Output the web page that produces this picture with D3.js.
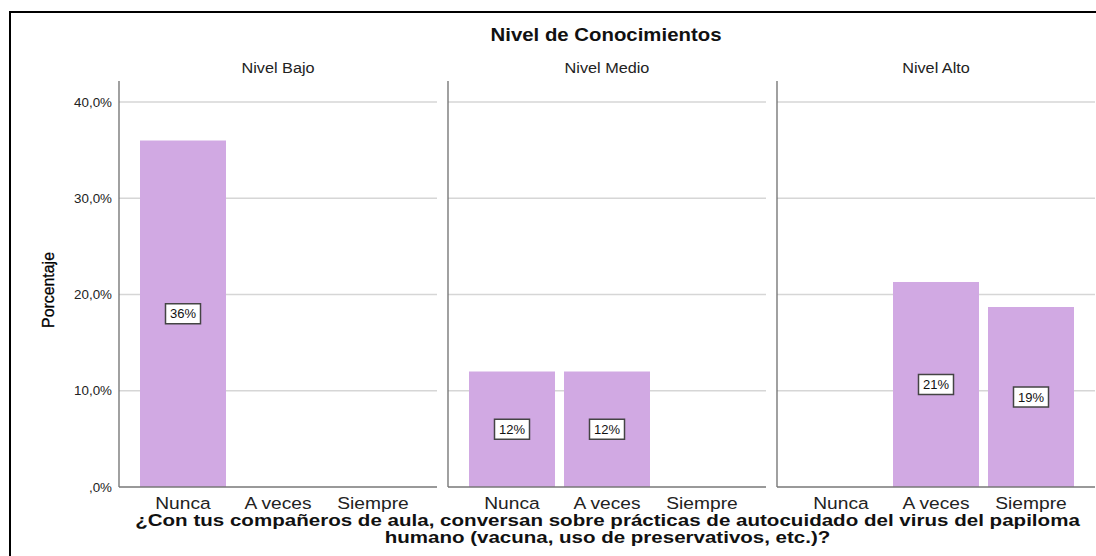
<!DOCTYPE html>
<html><head><meta charset="utf-8">
<script src="https://cdn.jsdelivr.net/npm/d3@7"></script>
<style>body{margin:0;background:#fff}svg{display:block}text{font-family:"Liberation Sans",Arial,sans-serif}</style>
</head><body><svg id="c" width="1096" height="556"></svg>
<script>
const panels = ["Nivel Bajo", "Nivel Medio", "Nivel Alto"];
const categories = ["Nunca", "A veces", "Siempre"];
const values = [
  [36.0, 0, 0],
  [12.0, 12.0, 0],
  [0, 21.3, 18.7]
];
const labels = [
  ["36%", null, null],
  ["12%", "12%", null],
  [null, "21%", "19%"]
];
const yTicks = [0, 10, 20, 30, 40];
const title = "Nivel de Conocimientos";
const xTitle = ["¿Con tus compañeros de aula, conversan sobre prácticas de autocuidado del virus del papiloma",
                "humano (vacuna, uso de preservativos, etc.)?"];
const yTitle = "Porcentaje";

const svg = d3.select("#c");

function txt(parent, x, y, str, o) {
  const g = parent.append("g");
  const t = g.append("text").attr("x",0).attr("y",0)
    .attr("text-anchor", o.anchor || "middle")
    .attr("font-size", o.size).attr("font-weight", o.weight || "normal")
    .attr("fill", o.fill || "#111").text(str);
  if (o.stroke) t.attr("stroke", o.fill || "#111").attr("stroke-width", o.stroke);
  let sx = o.sx || 1;
  if (o.width) sx = o.width / t.node().getComputedTextLength();
  g.attr("transform", `translate(${x},${y})` + (o.rot ? ` rotate(${o.rot})` : "") + ` scale(${sx},1)`);
  return t;
}

svg.append("rect").attr("x",10).attr("y",12).attr("width",1200).attr("height",700)
  .attr("fill","none").attr("stroke","#000").attr("stroke-width",2);

const plotTop = 81, plotBottom = 487;
const y = d3.scaleLinear().domain([0, 40]).range([plotBottom, 102]);
const pStarts = [119, 448, 777];
const pw = 318;

txt(svg, 606, 41, title, {size: 18, weight: "bold", width: 231});

const fmt = v => (v === 0 ? "" : String(v)) + ",0%";
yTicks.forEach(v => txt(svg, 112, y(v) + 4.5, fmt(v), {size: 12.5, anchor: "end", sx: 1.07, fill: "#222"}));

txt(svg, 54, 290, yTitle, {size: 16, rot: -90, width: 76, fill: "#000", stroke: 0.3});

panels.forEach((p, i) => {
  const x0 = pStarts[i];
  const g = svg.append("g");
  const x = d3.scaleBand().domain(categories).range([x0 + 16.5, x0 + 301.5])
    .paddingInner(9/95).paddingOuter(4.5/95);
  g.selectAll(".gl").data(yTicks.filter(d=>d>0)).enter().append("line")
    .attr("x1",x0).attr("x2",x0+pw).attr("y1",d=>y(d)).attr("y2",d=>y(d))
    .attr("stroke","#d6d6d6").attr("stroke-width",1.5);
  txt(g, x0 + pw/2, 73, p, {size: 14, sx: 1.16, fill: "#222"});
  const data = categories.map((c, j) => ({c, v: values[i][j], l: labels[i][j]}));
  g.selectAll(".bar").data(data.filter(d=>d.v>0)).enter().append("rect")
    .attr("x",d=>x(d.c)).attr("width",x.bandwidth())
    .attr("y",d=>y(d.v)).attr("height",d=>y(0)-y(d.v))
    .attr("fill","#d1a9e3");
  g.append("line").attr("x1",x0).attr("x2",x0).attr("y1",plotTop).attr("y2",plotBottom)
    .attr("stroke","#6e6e6e").attr("stroke-width",1.3);
  g.append("line").attr("x1",x0).attr("x2",x0+pw).attr("y1",plotBottom).attr("y2",plotBottom)
    .attr("stroke","#777").attr("stroke-width",1.3);
  data.filter(d=>d.l).forEach(d => {
    const cx = x(d.c) + x.bandwidth()/2, cy = (y(d.v) + y(0))/2;
    g.append("rect").attr("x",cx-17.5).attr("y",cy-10).attr("width",35).attr("height",20)
      .attr("fill","#fff").attr("stroke","#444").attr("stroke-width",1.5);
    txt(g, cx, cy + 4.5, d.l, {size: 13, sx: 1.0, fill: "#111"});
  });
  categories.forEach(c => txt(g, x(c) + x.bandwidth()/2, 509, c, {size: 17, sx: 1.13, fill: "#222"}));
});

txt(svg, 607.5, 526, xTitle[0], {size: 17, weight: "bold", width: 945, fill: "#111"});
txt(svg, 607.5, 543, xTitle[1], {size: 17, weight: "bold", width: 446, fill: "#111"});
</script></body></html>
